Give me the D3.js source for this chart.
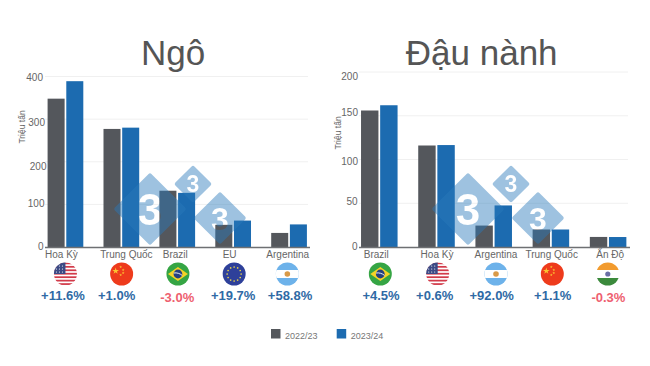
<!DOCTYPE html>
<html>
<head>
<meta charset="utf-8">
<script src="https://cdnjs.cloudflare.com/ajax/libs/d3/7.8.5/d3.min.js"></script>
<style>
  html, body { margin: 0; padding: 0; background: #fff; }
  svg { display: block; font-family: "Liberation Sans", Arial, sans-serif; }
</style>
</head>
<body>
<div class="canvas"></div>
<script>
// data (million tonnes)
const seasons = ['2022/23', '2023/24'];

const cornCategories = ['Hoa Kỳ', 'Trung Quốc', 'Brazil', 'EU', 'Argentina'];
const cornPrev = [348, 277, 132, 52, 33];
const cornCurr = [389, 280, 127, 62, 53];
const cornChange = ['+11.6%', '+1.0%', '-3.0%', '+19.7%', '+58.8%'];
const cornTicks = [0, 100, 200, 300, 400];

const soyCategories = ['Brazil', 'Hoa Kỳ', 'Argentina', 'Trung Quốc', 'Ấn Độ'];
const soyPrev = [156, 116, 24.5, 20, 11.5];
const soyCurr = [162, 116.5, 47.5, 20, 11.4];
const soyChange = ['+4.5%', '+0.6%', '+92.0%', '+1.1%', '-0.3%'];
const soyTicks = [0, 50, 100, 150, 200];

const colours = { prev: '#54575c', curr: '#1c6bb0', up: '#2f6aa5', down: '#ee5f70', text: '#666' };

const svg = d3.select('.canvas')
  .append('svg')
  .attr('width', 650)
  .attr('height', 366);

const defs = svg.append('defs');

// little flags, each one clipped to a circle
const flagRadius = 11.5;
const flags = {
  'Hoa Kỳ': (g) => {
    g.append('rect').attr('x', -12).attr('y', -12).attr('width', 24).attr('height', 24).attr('fill', '#fff');
    d3.range(7).forEach(i => {
      g.append('rect').attr('x', -12).attr('y', -11.5 + i * 3.45).attr('width', 24).attr('height', 1.75).attr('fill', '#d23b4a');
    });
    g.append('rect').attr('x', -12).attr('y', -12).attr('width', 12).attr('height', 12).attr('fill', '#3c4a85');
    d3.range(3).forEach(r => d3.range(3).forEach(c => {
      g.append('circle').attr('cx', -9 + c * 3).attr('cy', -8 + r * 3).attr('r', 0.6).attr('fill', '#fff');
    }));
  },
  'Trung Quốc': (g) => {
    g.append('rect').attr('x', -12).attr('y', -12).attr('width', 24).attr('height', 24).attr('fill', '#ee3b1c');
    const star = d3.symbol().type(d3.symbolStar);
    g.append('path').attr('d', star.size(14)()).attr('transform', 'translate(-6,-3)').attr('fill', '#fbc531');
    [[-1, -7], [1.5, -4], [1.5, -1], [-1, 1]].forEach(p => {
      g.append('path').attr('d', star.size(2.5)()).attr('transform', `translate(${p[0]},${p[1]})`).attr('fill', '#fbc531');
    });
  },
  'Brazil': (g) => {
    g.append('rect').attr('x', -12).attr('y', -12).attr('width', 24).attr('height', 24).attr('fill', '#35a544');
    g.append('path').attr('d', 'M-10,0L0,-7L10,0L0,7Z').attr('fill', '#f5d327');
    g.append('circle').attr('r', 4.4).attr('fill', '#26407f');
    g.append('path').attr('d', 'M-4.2,-1C-1,-1.5 2,-0.5 4.2,1.4').attr('fill', 'none').attr('stroke', '#fff').attr('stroke-width', 0.9);
  },
  'EU': (g) => {
    g.append('rect').attr('x', -12).attr('y', -12).attr('width', 24).attr('height', 24).attr('fill', '#2e409a');
    d3.range(12).forEach(i => {
      const a = i * Math.PI / 6;
      g.append('circle').attr('cx', 7 * Math.cos(a)).attr('cy', 7 * Math.sin(a)).attr('r', 0.85).attr('fill', '#e3cf4d');
    });
  },
  'Argentina': (g) => {
    g.append('rect').attr('x', -12).attr('y', -12).attr('width', 24).attr('height', 24).attr('fill', '#6db2ea');
    g.append('rect').attr('x', -12).attr('y', -4).attr('width', 24).attr('height', 8).attr('fill', '#fff');
    g.append('circle').attr('r', 2.8).attr('fill', '#d99a48');
  },
  'Ấn Độ': (g) => {
    g.append('rect').attr('x', -12).attr('y', -12).attr('width', 24).attr('height', 24).attr('fill', '#fff');
    g.append('rect').attr('x', -12).attr('y', -12).attr('width', 24).attr('height', 8).attr('fill', '#f29b2e');
    g.append('rect').attr('x', -12).attr('y', 4).attr('width', 24).attr('height', 8).attr('fill', '#3b8a3c');
    g.append('circle').attr('r', 2.6).attr('fill', '#6a6fa5');
  }
};

defs.append('clipPath').attr('id', 'flagClip')
  .append('circle').attr('r', flagRadius);

let markCount = 0;

// rounded diamond with the digit cut out of it, laid over the bars
const drawMark = (cx, cy, size, fontSize) => {
  const id = `mark${markCount++}`;
  const mask = defs.append('mask').attr('id', id)
    .attr('maskUnits', 'userSpaceOnUse')
    .attr('x', 0).attr('y', 0).attr('width', 650).attr('height', 366);
  mask.append('rect').attr('width', 650).attr('height', 366).attr('fill', '#fff');
  mask.append('text')
    .attr('x', cx).attr('y', cy)
    .attr('dy', '0.36em')
    .attr('text-anchor', 'middle')
    .attr('font-size', fontSize)
    .attr('font-weight', 'bold')
    .attr('fill', '#000')
    .text('3');

  const inner = size - 2.8;
  svg.append('path')
    .attr('d', d3.line()([[cx - inner, cy], [cx, cy - inner], [cx + inner, cy], [cx, cy + inner]]) + 'Z')
    .attr('fill', '#2a7abb')
    .attr('stroke', '#2a7abb')
    .attr('stroke-width', 4)
    .attr('stroke-linejoin', 'round')
    .attr('opacity', 0.45)
    .attr('mask', `url(#${id})`);
};

const drawPanel = (p) => {
  const x = d3.scaleBand().domain(p.categories).range(p.xRange);
  const x1 = d3.scaleBand().domain(seasons).range([0, x.bandwidth()])
    .paddingInner(0.09).paddingOuter(0.54);
  const y = d3.scaleLinear().domain(p.yDomain).range([247, p.yTop]);

  svg.append('text')
    .attr('x', p.titleX).attr('y', 65)
    .attr('text-anchor', 'middle')
    .attr('font-size', 35)
    .attr('fill', '#555')
    .text(p.title);

  // y axis, the tick labels sit a bit off their grid lines in the original
  const yAxis = d3.axisLeft(y).tickValues(p.ticks).tickSize(0).tickPadding(0);
  const yGroup = svg.append('g')
    .attr('transform', `translate(${p.axisX[0]},0)`)
    .call(yAxis);
  yGroup.select('.domain').remove();
  yGroup.selectAll('text')
    .attr('font-size', 10)
    .attr('font-family', 'inherit')
    .attr('fill', colours.text)
    .attr('dx', (d, i) => p.yLabelDx[i])
    .attr('dy', (d, i) => `${p.yLabelDy[i] + 3.5}px`);

  // grid
  svg.append('g').selectAll('line')
    .data(p.ticks.slice(1))
    .enter().append('line')
      .attr('x1', p.axisX[0]).attr('x2', p.axisX[1] - 2)
      .attr('y1', d => y(d)).attr('y2', d => y(d))
      .attr('stroke', '#f0f0f0');

  svg.append('text')
    .attr('transform', `translate(${p.yTitle[0]},${p.yTitle[1]}) rotate(-90)`)
    .attr('text-anchor', 'middle')
    .attr('font-size', 8.5)
    .attr('fill', colours.text)
    .text('Triệu tấn');

  // bars
  const groups = svg.append('g').selectAll('g')
    .data(p.categories)
    .enter().append('g')
      .attr('transform', d => `translate(${x(d)},0)`);

  groups.append('rect')
    .attr('x', x1(seasons[0])).attr('width', x1.bandwidth())
    .attr('y', (d, i) => y(p.prev[i]))
    .attr('height', (d, i) => y(0) - y(p.prev[i]))
    .attr('fill', colours.prev);

  groups.append('rect')
    .attr('x', x1(seasons[1])).attr('width', x1.bandwidth())
    .attr('y', (d, i) => y(p.curr[i]))
    .attr('height', (d, i) => y(0) - y(p.curr[i]))
    .attr('fill', colours.curr);

  // watermark goes over the bars
  drawMark(p.markX, 209, 36.5, 44);
  drawMark(p.markX + 43, 184, 19, 23);
  drawMark(p.markX + 70, 218, 26.5, 32);

  // x axis
  svg.append('line')
    .attr('x1', p.axisX[0]).attr('x2', p.axisX[1])
    .attr('y1', 247.5).attr('y2', 247.5)
    .attr('stroke', '#6e7073').attr('stroke-width', 1.6);

  const xAxis = d3.axisBottom(x).tickSize(0).tickPadding(0);
  const xGroup = svg.append('g')
    .attr('transform', 'translate(0,248)')
    .call(xAxis);
  xGroup.select('.domain').remove();
  xGroup.selectAll('text')
    .attr('font-size', 10)
    .attr('font-family', 'inherit')
    .attr('fill', colours.text)
    .attr('dx', (d, i) => p.xLabelDx[i])
    .attr('y', 2.5)
    .attr('dy', '0.71em');

  // flags and % change under each country
  p.categories.forEach((c, i) => {
    const flag = svg.append('g')
      .attr('transform', `translate(${x(c) + x.bandwidth() / 2 + p.flagDx[i]},274)`)
      .append('g').attr('clip-path', 'url(#flagClip)');
    flags[c](flag);

    const down = p.change[i][0] === '-';
    svg.append('text')
      .attr('x', x(c) + x.bandwidth() / 2 + p.changeDx[i])
      .attr('y', down ? 301.5 : 299.5)
      .attr('text-anchor', 'middle')
      .attr('font-size', 13)
      .attr('font-weight', 'bold')
      .attr('fill', down ? colours.down : colours.up)
      .text(p.change[i]);
  });
};

drawPanel({
  title: 'Ngô', titleX: 173,
  categories: cornCategories, prev: cornPrev, curr: cornCurr, change: cornChange, ticks: cornTicks,
  yDomain: [0, 400], yTop: 76.5,
  xRange: [37.5, 317], axisX: [45, 310],
  yLabelDx: [-1.5, -0.5, 1.5, 0, -2], yLabelDy: [-1, -1.5, 4, 3, 0.5],
  yTitle: [25, 127],
  xLabelDx: [-4, 5, -2, -3.5, -1.3],
  flagDx: [0, 0.3, 0.7, 1, -1.7], changeDx: [-2.5, -4.7, 0, 0, 1],
  markX: 150
});

drawPanel({
  title: 'Đậu nành', titleX: 481.7,
  categories: soyCategories, prev: soyPrev, curr: soyCurr, change: soyChange, ticks: soyTicks,
  yDomain: [0, 200], yTop: 72,
  xRange: [350.7, 636.7], axisX: [359, 630],
  yLabelDx: [-1.5, -1.5, -1, -1, -1], yLabelDy: [-1.5, -2.5, 1, -3.5, 4],
  yTitle: [340.5, 133],
  xLabelDx: [-3, 0.5, 2.3, 0.8, 2],
  flagDx: [1, 1.2, 2.3, 1.4, -0.3], changeDx: [1.7, -1.8, -2, 1.8, 0.3],
  markX: 468
});

// legend
[[271, '2022/23', colours.prev], [336.7, '2023/24', colours.curr]].forEach(l => {
  svg.append('rect')
    .attr('x', l[0]).attr('y', 329)
    .attr('width', 9.5).attr('height', 9.5)
    .attr('fill', l[2]);
  svg.append('text')
    .attr('x', l[0] + 14).attr('y', 339)
    .attr('font-size', 9)
    .attr('fill', '#777')
    .text(l[1]);
});
</script>
</body>
</html>
